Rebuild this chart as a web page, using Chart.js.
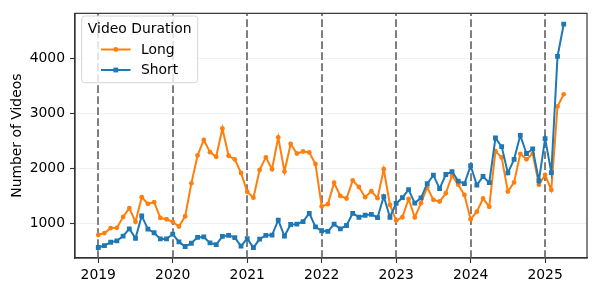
<!DOCTYPE html>
<html>
<head>
<meta charset="utf-8">
<script src="https://cdn.jsdelivr.net/npm/chart.js@4.4.1/dist/chart.umd.min.js"></script>
<style>
  html, body { margin: 0; padding: 0; background: #fff; }
  #wrap { width: 597px; height: 293px; }
</style>
</head>
<body>
<div id="wrap"><canvas id="c" width="597" height="293"></canvas></div>
<script>
// ---- data ----
const startYear = 2019;
const monthCount = 76; // 2019-01 .. 2025-04
const months = [];
for (let i = 0; i < monthCount; i++) {
  const y = startYear + Math.floor(i / 12), m = (i % 12) + 1;
  months.push(y + '-' + String(m).padStart(2, '0'));
}
const longVideos = [
  785, 820, 910, 916, 1114, 1275, 1024, 1473, 1353, 1383, 1096, 1072,
  1024, 940, 1126, 1725, 2234, 2515, 2293, 2210, 2725, 2228, 2162, 1916,
  1572, 1464, 1970, 2198, 1982, 2563, 1940, 2443, 2269, 2305, 2287, 2078,
  1305, 1347, 1737, 1497, 1449, 1778, 1659, 1473, 1581, 1455, 1982, 1335,
  1048, 1108, 1440, 1105, 1365, 1653, 1425, 1395, 1545, 1868, 1701, 1515,
  1072, 1210, 1449, 1299, 2311, 2198, 1575, 1743, 2263, 2162, 2263, 1701,
  1880, 1605, 3126, 3347
];
const shortVideos = [
  557, 593, 653, 677, 766, 898, 725, 1132, 892, 826, 713, 713,
  802, 659, 575, 635, 743, 749, 641, 611, 760, 778, 737, 581,
  719, 554, 710, 778, 784, 1054, 766, 976, 982, 1030, 1180, 934,
  862, 850, 982, 898, 958, 1180, 1108, 1144, 1162, 1102, 1485, 1108,
  1359, 1464, 1611, 1365, 1461, 1719, 1874, 1629, 1886, 1940, 1766, 1719,
  2048, 1695, 1850, 1737, 2551, 2395, 1916, 2162, 2599, 2269, 2353, 1772,
  2539, 1922, 4036, 4623
];
const yearTicks = [2019, 2020, 2021, 2022, 2023, 2024, 2025];
const yTicks = [1000, 2000, 3000, 4000];
const seriesNames = ['Long', 'Short'];
const legendTitle = 'Video Duration';
const yAxisTitle = 'Number of Videos';

// ---- helpers ----
const toX = s => { const [y, m] = s.split('-').map(Number); return y + (m - 1) / 12; };
const xs = months.map(toX);
const span = xs[xs.length - 1] - xs[0];
const xMin = xs[0] - 0.05 * span, xMax = xs[xs.length - 1] + 0.05 * span;

const FONT = 'DejaVu Sans';
const FS = 13.9;
const ORANGE = '#ff7f0e', BLUE = '#1f77b4';

const yearLines = {
  id: 'yearLines',
  beforeDatasetsDraw(chart) {
    const { ctx, chartArea: a, scales } = chart;
    ctx.save();
    ctx.beginPath(); ctx.rect(a.left, a.top, a.right - a.left, a.bottom - a.top); ctx.clip();
    ctx.strokeStyle = '#7f7f7f';
    ctx.lineWidth = 2;
    ctx.setLineDash([7.7, 3.3]);
    yearTicks.forEach(v => {
      const x = Math.round(scales.x.getPixelForValue(v));
      ctx.beginPath(); ctx.moveTo(x, a.bottom); ctx.lineTo(x, a.top); ctx.stroke();
    });
    ctx.restore();
  }
};

const frameAndLegend = {
  id: 'frameAndLegend',
  afterDraw(chart) {
    const { ctx, chartArea: a } = chart;
    ctx.save();
    // frame (top/right spines)
    ctx.strokeStyle = '#333';
    ctx.lineWidth = 1.2;
    ctx.strokeRect(a.left, a.top, a.right - a.left, a.bottom - a.top);

    // legend box
    const bx = 81.7, by = 16, bw = 116, bh = 66.7, r = 3;
    ctx.beginPath();
    ctx.moveTo(bx + r, by);
    ctx.arcTo(bx + bw, by, bx + bw, by + bh, r);
    ctx.arcTo(bx + bw, by + bh, bx, by + bh, r);
    ctx.arcTo(bx, by + bh, bx, by, r);
    ctx.arcTo(bx, by, bx + bw, by, r);
    ctx.closePath();
    ctx.fillStyle = 'rgba(255,255,255,0.8)';
    ctx.fill();
    ctx.strokeStyle = '#d6d6d6';
    ctx.lineWidth = 1;
    ctx.stroke();

    ctx.fillStyle = '#000';
    ctx.font = FS + 'px "' + FONT + '"';
    ctx.textBaseline = 'middle';
    ctx.textAlign = 'center';
    ctx.fillText(legendTitle, bx + bw / 2, 29.5);

    const rows = [
      { y: 49.5, color: ORANGE, shape: 'circle' },
      { y: 70, color: BLUE, shape: 'square' }
    ];
    rows.forEach((row, i) => {
      ctx.strokeStyle = row.color;
      ctx.lineWidth = 2;
      ctx.setLineDash([]);
      ctx.beginPath(); ctx.moveTo(101, row.y); ctx.lineTo(130.5, row.y); ctx.stroke();
      ctx.fillStyle = row.color;
      const mx = 115.8;
      if (row.shape === 'circle') {
        ctx.beginPath(); ctx.arc(mx, row.y, 2.4, 0, Math.PI * 2); ctx.fill();
      } else {
        ctx.fillRect(mx - 2.4, row.y - 2.4, 4.8, 4.8);
      }
      ctx.fillStyle = '#000';
      ctx.textAlign = 'left';
      ctx.fillText(chart.data.datasets[i].label, 141, row.y + 0.5);
    });
    ctx.restore();
  }
};

new Chart(document.getElementById('c'), {
  type: 'line',
  data: {
    datasets: [
      {
        label: seriesNames[0], order: 1,
        data: xs.map((x, i) => ({ x, y: longVideos[i] })),
        borderColor: ORANGE, backgroundColor: ORANGE,
        borderWidth: 2, pointStyle: 'circle', pointRadius: 2.4,
        pointBorderWidth: 0, pointHoverRadius: 2.4, tension: 0
      },
      {
        label: seriesNames[1], order: 0,
        data: xs.map((x, i) => ({ x, y: shortVideos[i] })),
        borderColor: BLUE, backgroundColor: BLUE,
        borderWidth: 2, pointStyle: 'rect', pointRadius: 3.4,
        pointBorderWidth: 0, pointHoverRadius: 3.4, tension: 0
      }
    ]
  },
  options: {
    responsive: false,
    animation: false,
    devicePixelRatio: 1,
    layout: { padding: { top: 10, right: 10, left: 0, bottom: 0 } },
    plugins: { legend: { display: false }, tooltip: { enabled: false } },
    scales: {
      x: {
        type: 'linear',
        min: xMin, max: xMax,
        afterFit(s) { s.height = 35; },
        afterBuildTicks(s) { s.ticks = yearTicks.map(v => ({ value: v })); },
        ticks: {
          autoSkip: false, maxRotation: 0, padding: 4.5,
          color: '#000', font: { family: FONT, size: FS },
          callback: v => String(v)
        },
        grid: { drawOnChartArea: false, drawTicks: true, tickLength: 5, tickColor: '#333', tickWidth: 1.1 },
        border: { display: true, color: '#333', width: 1.2 }
      },
      y: {
        type: 'linear',
        min: 366, max: 4821,
        afterFit(s) { s.width = 75; },
        afterBuildTicks(s) { s.ticks = yTicks.map(v => ({ value: v })); },
        ticks: {
          padding: 5, color: '#000', font: { family: FONT, size: FS },
          callback: v => String(v)
        },
        grid: { color: 'rgba(0,0,0,0.05)', lineWidth: 1, drawTicks: true, tickLength: 5, tickColor: '#333', tickWidth: 1.1 },
        border: { display: true, color: '#333', width: 1.2 },
        title: {
          display: true, text: yAxisTitle, color: '#000',
          font: { family: FONT, size: FS }, padding: { top: 9, bottom: 0 }
        }
      }
    }
  },
  plugins: [yearLines, frameAndLegend]
});
</script>
</body>
</html>
